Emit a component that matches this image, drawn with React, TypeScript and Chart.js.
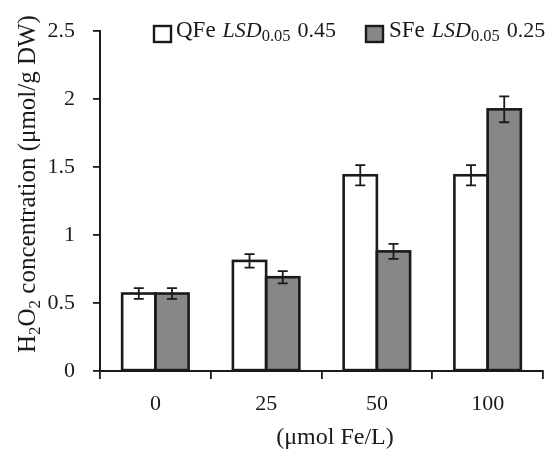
import React, { useEffect, useRef } from "react";
import { Chart, registerables } from "chart.js";

Chart.register(...registerables);

const categories = ["0", "25", "50", "100"];
const qfeValues = [0.57, 0.81, 1.44, 1.44];
const qfeErrors = [0.04, 0.05, 0.075, 0.075];
const sfeValues = [0.57, 0.69, 0.88, 1.925];
const sfeErrors = [0.04, 0.045, 0.055, 0.095];
const yTickLabels = ["0", "0.5", "1", "1.5", "2", "2.5"];
const legendItems = [
  { name: "QFe", lsd: "0.45" },
  { name: "SFe", lsd: "0.25" },
];
const yTitleParts = ["H", "2", "O", "2", " concentration (μmol/g DW)"];
const xTitle = "(μmol Fe/L)";

const FONT = "'Liberation Serif', 'Times New Roman', serif";
const INK = "#1a1a1a";
const GRAY = "#878787";

const outlineAndErrorPlugin = {
  id: "outlineErrors",
  afterDatasetsDraw(chart: any) {
    const ctx = chart.ctx;
    const errs = [qfeErrors, sfeErrors];
    const y = chart.scales.y;
    ctx.save();
    ctx.strokeStyle = INK;
    ctx.lineWidth = 2.6;
    ctx.lineJoin = "miter";
    chart.data.datasets.forEach((_ds: any, di: number) => {
      const meta = chart.getDatasetMeta(di);
      meta.data.forEach((bar: any) => {
        const { x, y: top, base, width } = bar.getProps(["x", "y", "base", "width"], true);
        ctx.strokeRect(x - width / 2, top, width, base - top);
      });
    });
    ctx.lineWidth = 1.8;
    chart.data.datasets.forEach((ds: any, di: number) => {
      const meta = chart.getDatasetMeta(di);
      meta.data.forEach((bar: any, i: number) => {
        const v = ds.data[i];
        const e = errs[di][i];
        const yt = y.getPixelForValue(v + e);
        const yb = y.getPixelForValue(v - e);
        const x = bar.x;
        ctx.beginPath();
        ctx.moveTo(x, yt);
        ctx.lineTo(x, yb);
        ctx.moveTo(x - 5, yt);
        ctx.lineTo(x + 5, yt);
        ctx.moveTo(x - 5, yb);
        ctx.lineTo(x + 5, yb);
        ctx.stroke();
      });
    });
    ctx.restore();
  },
};

const legendPlugin = {
  id: "customLegend",
  afterDraw(chart: any) {
    const ctx = chart.ctx;
    ctx.save();
    const boxes = [
      { x: 154, y: 26, w: 17, h: 16, fill: "#ffffff" },
      { x: 366, y: 26, w: 17, h: 16, fill: GRAY },
    ];
    const starts = [176, 389];
    const baseline = 36.5;
    legendItems.forEach((it, i) => {
      const b = boxes[i];
      ctx.fillStyle = b.fill;
      ctx.fillRect(b.x, b.y, b.w, b.h);
      ctx.strokeStyle = INK;
      ctx.lineWidth = 2.4;
      ctx.strokeRect(b.x, b.y, b.w, b.h);
      let x = starts[i];
      ctx.fillStyle = INK;
      ctx.textBaseline = "alphabetic";
      ctx.textAlign = "left";
      ctx.font = `23px ${FONT}`;
      ctx.fillText(it.name, x, baseline);
      x += ctx.measureText(it.name).width + 7;
      ctx.font = `italic 22px ${FONT}`;
      ctx.fillText("LSD", x, baseline);
      x += ctx.measureText("LSD").width;
      ctx.font = `16.5px ${FONT}`;
      ctx.fillText("0.05", x, baseline + 4);
      x += ctx.measureText("0.05").width + 7;
      ctx.font = `22px ${FONT}`;
      ctx.fillText(it.lsd, x, baseline);
    });
    ctx.restore();
  },
};

function drawYTitle(ctx: any) {
  let x = 0;
  yTitleParts.forEach((p) => {
    const sub = p === "2";
    ctx.font = sub ? `17px ${FONT}` : `25px ${FONT}`;
    ctx.fillText(p, x, sub ? 5 : 0);
    x += ctx.measureText(p).width;
  });
}

const titlesPlugin = {
  id: "axisTitles",
  afterDraw(chart: any) {
    const ctx = chart.ctx;
    ctx.save();
    ctx.fillStyle = INK;
    ctx.textBaseline = "alphabetic";
    ctx.textAlign = "left";
    ctx.save();
    ctx.translate(35, 353);
    ctx.rotate(-Math.PI / 2);
    drawYTitle(ctx);
    ctx.restore();
    ctx.font = `24px ${FONT}`;
    ctx.textAlign = "center";
    ctx.fillText(xTitle, 335, 444);
    ctx.restore();
  },
};

export default function App() {
  const ref = useRef<HTMLCanvasElement | null>(null);
  useEffect(() => {
    if (!ref.current) return;
    const chart = new Chart(ref.current, {
      type: "bar",
      data: {
        labels: categories,
        datasets: [
          {
            label: "QFe",
            data: qfeValues,
            backgroundColor: "#ffffff",
            borderWidth: 0,
            categoryPercentage: 0.6,
            barPercentage: 1,
          },
          {
            label: "SFe",
            data: sfeValues,
            backgroundColor: GRAY,
            borderWidth: 0,
            categoryPercentage: 0.6,
            barPercentage: 1,
          },
        ],
      },
      plugins: [outlineAndErrorPlugin, legendPlugin, titlesPlugin],
      options: {
        responsive: false,
        animation: false,
        layout: { padding: { top: 18, right: 13, left: 0, bottom: 0 } },
        plugins: { legend: { display: false }, tooltip: { enabled: false } },
        scales: {
          x: {
            grid: {
              display: true,
              drawOnChartArea: false,
              drawTicks: true,
              tickLength: 8,
              color: INK,
              lineWidth: 1.8,
              offset: true,
            },
            border: { display: true, color: INK, width: 2 },
            ticks: { color: INK, font: { family: FONT, size: 22 }, padding: 12 },
            afterFit: (s: any) => {
              s.height = 82;
            },
          },
          y: {
            min: 0,
            max: 2.5,
            grid: {
              display: true,
              drawOnChartArea: false,
              drawTicks: true,
              tickLength: 7,
              color: INK,
              lineWidth: 1.8,
            },
            border: { display: true, color: INK, width: 2 },
            ticks: {
              stepSize: 0.5,
              color: INK,
              font: { family: FONT, size: 22 },
              padding: 18,
              callback: (_v: any, i: number) => yTickLabels[i],
            },
            afterFit: (s: any) => {
              s.width = 100;
            },
          },
        },
      },
    });
    return () => chart.destroy();
  }, []);
  return (
    <div style={{ position: "fixed", left: 0, top: 0, width: 556, height: 453, background: "#fff" }}>
      <canvas ref={ref} width={556} height={453} />
    </div>
  );
}
